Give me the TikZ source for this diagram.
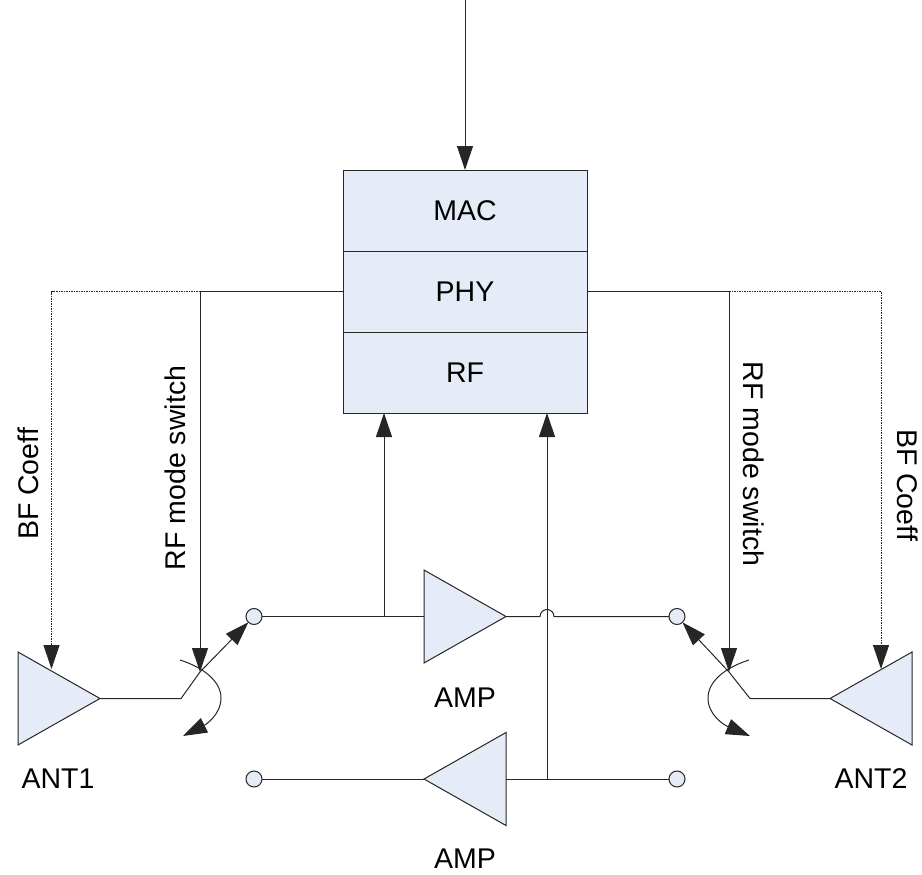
\documentclass[tikz,border=0pt]{standalone}
\usepackage{fontspec}
\setmainfont{Liberation Sans}
\usetikzlibrary{positioning, arrows.meta, shapes.geometric}
\definecolor{blockfill}{HTML}{E6ECF7}
\definecolor{wire}{HTML}{262626}
\begin{document}
\begin{tikzpicture}[
     x=1pt, y=-1pt,
     line width=1pt, color=wire,
     >={Triangle[length=24pt,width=16pt]},
every node/.style = {font=\fontsize{28.5}{32}\selectfont, outer sep=0pt, text=black},
        box/.style = {rectangle, draw=wire, fill=blockfill, minimum width=244pt, minimum height=81pt, inner sep=0pt},
        amp/.style = {isosceles triangle, isosceles triangle apex angle=59.1, draw=wire, fill=blockfill, inner sep=0pt, minimum height=82pt, anchor=lower side},
        port/.style = {circle, draw=wire, fill=blockfill, minimum size=16pt, inner sep=0pt},
        ctrl/.style = {dash pattern=on 1.5pt off 1pt}
                        ]
\useasboundingbox (0,0) rectangle (922,875);
\node (mac)[box] at (465,210.5) {MAC};
\node (phy)[box, below =0pt of mac] {PHY};
\node (rf) [box, below =0pt of phy] {RF};
\node (ant1)[amp] at (18,698.5) {};
\node (ant2)[amp, shape border rotate=180] at (912,698.5) {};
\node (amp1)[amp] at (424,616.5) {};
\node (amp2)[amp, shape border rotate=180] at (506,779) {};
\node (p1)[port] at (254,616.5) {};
\node (p2)[port] at (677,616.5) {};
\node (p3)[port] at (254,779) {};
\node (p4)[port] at (677,779) {};
\node (l1) at (58,779) {ANT1};
\node (l2) at (871,779) {ANT2};
\node (l3) at (465,698) {AMP};
\node (l4) at (465,859) {AMP};
\node (b1)[rotate=90] at (28,484) {BF Coeff};
\node (r1)[rotate=90] at (175,468) {RF mode switch};
\node (r2)[rotate=-90] at (754,464) {RF mode switch};
\node (b2)[rotate=-90] at (908,485) {BF Coeff};
\coordinate (top) at (465,0);
\coordinate (sw1) at (200,672);
\coordinate (sw2) at (729,672);
\coordinate (kn1) at (181,698.5);
\coordinate (kn2) at (750,698.5);
\coordinate (j1) at (200,291.5);
\coordinate (j2) at (729,291.5);
\coordinate (t1) at (51.5,669);
\coordinate (t2) at (881,669);
\coordinate (e1) at (51.5,645);
\coordinate (e2) at (881,645);
\coordinate (c1) at (51.5,291.5);
\coordinate (c2) at (881,291.5);
\coordinate (u1) at (384,616.5);
\coordinate (u2) at (384,413);
\coordinate (d1) at (547,779);
\coordinate (d2) at (547,413);
\coordinate (h1) at (540,616.5);
\draw[->] (top) to (mac.north);
\draw (phy.west) to (j1);
\draw (phy.east) to (j2);
\draw[->] (j1) to (sw1);
\draw[->] (j2) to (sw2);
\draw[ctrl] (j1) -- (c1) -- (e1);
\draw[ctrl] (j2) -- (c2) -- (e2);
\draw[->] (e1) to (t1);
\draw[->] (e2) to (t2);
\draw (ant1.apex) -- (kn1) -- (sw1);
\draw[->] (sw1) to (p1);
\draw (ant2.apex) -- (kn2) -- (sw2);
\draw[->] (sw2) to (p2);
\draw[->] (180,660) .. controls (205,668) and (221,682) .. (221,698) .. controls (221,715) and (205,725) .. (183,736);
\draw[->] (749,660) .. controls (724,668) and (708,682) .. (708,698) .. controls (708,715) and (724,725) .. (750,736);
\draw (p1) to (amp1.lower side);
\draw (amp1.apex) -- (h1) arc[start angle=180, end angle=360, radius=7] -- (p2);
\draw (p3) to (amp2.apex);
\draw (amp2.lower side) to (p4);
\draw[->] (u1) to (u2);
\draw[->] (d1) to (d2);
\end{tikzpicture}
\end{document}
